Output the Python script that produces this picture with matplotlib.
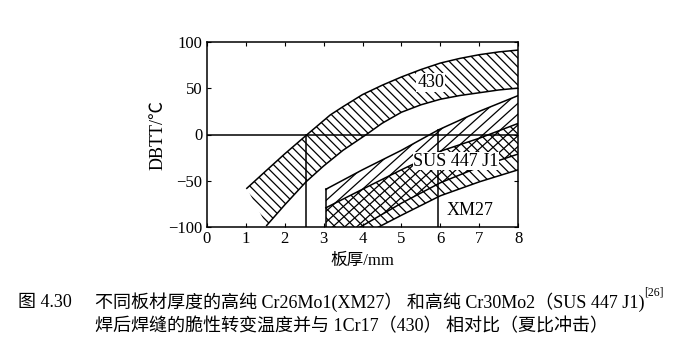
import numpy as np
import matplotlib
matplotlib.use("Agg")
import matplotlib.pyplot as plt
from matplotlib.patches import Polygon
from matplotlib.collections import LineCollection

plt.rcParams['font.family'] = ['Liberation Serif', 'Noto Sans CJK SC', 'DejaVu Sans']
plt.rcParams['axes.unicode_minus'] = True

# ---- data ----
# 1Cr17 (430) band
x430_up = [1.03, 1.5, 2.0, 2.58, 3.17, 3.5, 4.0, 4.5, 5.0, 5.5, 6.0, 6.5, 7.0, 7.5, 8.0]
y430_up = [-58, -40, -21, 0, 21, 30, 43, 53, 62, 70, 77, 82, 86, 89, 91]
x430_lo = [1.54, 2.0, 2.55, 3.0, 3.5, 4.1, 4.5, 5.0, 5.5, 6.0, 6.5, 7.0, 7.5, 8.0]
y430_lo = [-98, -76, -51, -34, -17, 0, 12, 24, 32, 38, 42, 45, 48, 50]

# SUS 447 J1 band
xsus_up = [3.06, 4.0, 5.0, 5.95, 7.0, 8.0]
ysus_up = [-59, -38, -17, 5, 25, 42]
xsus_lo = [3.93, 5.0, 6.0, 7.0, 8.0]
ysus_lo = [-100, -74, -52, -35, -21]

# XM27 band
xxm_up = [3.06, 4.0, 5.0, 6.0, 7.0, 8.0]
yxm_up = [-79, -59, -38, -18, -4, 12]
xxm_lo = [4.4, 5.0, 6.0, 7.0, 8.0]
yxm_lo = [-100, -87, -66, -51, -38]

drop_x = [2.55, 5.95]
drop_top = [0, 5]

xticks = [0, 1, 2, 3, 4, 5, 6, 7, 8]
yticks = [-100, -50, 0, 50, 100]

W, H, DPI = 700, 359, 100
fig = plt.figure(figsize=(W / DPI, H / DPI), dpi=DPI)
L, R, T, B = 206.7, 518.3, 41.7, 227.3
ax = fig.add_axes([L / W, 1 - B / H, (R - L) / W, (B - T) / H])
ax.set_xlim(0, 8)
ax.set_ylim(-100, 100)

kx = (R - L) / 8.0
ky = (B - T) / 200.0


def band(xu, yu, xl, yl, extra_left=None):
    verts = list(zip(xu, yu)) + [(8, yl[-1])] + list(zip(xl[::-1], yl[::-1]))
    if extra_left is not None:
        verts += extra_left
    p = Polygon(verts, closed=True, facecolor='none', edgecolor='none')
    ax.add_patch(p)
    return p


def hatch(patch, sign, spacing_px, angle_deg=45, lw=0.9):
    slope = np.tan(np.radians(angle_deg)) * kx / ky * sign
    sp = spacing_px / kx
    segs = []
    for x0 in np.arange(-12, 20, sp):
        xs = np.array([-1.0, 9.0])
        ys = slope * (xs - x0)
        segs.append(list(zip(xs, ys)))
    lc = LineCollection(segs, colors='k', linewidths=lw)
    ax.add_collection(lc)
    lc.set_clip_path(patch)


p430 = band(x430_up, y430_up, x430_lo, y430_lo)
hatch(p430, -1, 9.0)

psus = band(xsus_up, ysus_up, xsus_lo, ysus_lo, extra_left=[(3.06, -100)])
hatch(psus, 1, 12.0, angle_deg=42)

pxm = band(xxm_up, yxm_up, xxm_lo, yxm_lo, extra_left=[(3.06, -100)])
hatch(pxm, -1, 9.5)

lw = 1.1
for xs, ys in [(x430_up, y430_up), (x430_lo, y430_lo), (xsus_up, ysus_up),
               (xsus_lo, ysus_lo), (xxm_up, yxm_up), (xxm_lo, yxm_lo)]:
    ax.plot(xs, ys, color='k', lw=lw)
ax.plot([3.06, 3.06], [-100, ysus_up[0]], color='k', lw=lw)
ax.axhline(0, color='k', lw=lw)
for dx, dt in zip(drop_x, drop_top):
    ax.plot([dx, dx], [-100, dt], color='k', lw=lw)

ax.text(5.75, 56, '430', fontsize=13, ha='center', va='center',
        bbox=dict(boxstyle='square,pad=0.05', fc='white', ec='none'))
ax.text(6.4, -28.6, 'SUS 447 J1', fontsize=13, ha='center', va='center',
        bbox=dict(boxstyle='square,pad=0.02', fc='white', ec='none'))
ax.text(6.75, -82, 'XM27', fontsize=13, ha='center', va='center')

ax.set_xticks(xticks)
ax.set_yticks(yticks)
ax.tick_params(direction='in', top=True, right=True, length=3, width=0.8,
               labelsize=12, pad=3)
for s in ax.spines.values():
    s.set_linewidth(1.1)

ax.set_ylabel('DBTT/℃', fontsize=13, labelpad=1)
ax.set_xlabel('板厚/mm', fontsize=12, labelpad=4)

fs = 13
fig.text(18 / W, 1 - 302 / H, '图 4.30', fontsize=fs, ha='left', va='center')
t1 = fig.text(95 / W, 1 - 302 / H,
              '不同板材厚度的高纯 Cr26Mo1(XM27） 和高纯 Cr30Mo2（SUS 447 J1)',
              fontsize=fs, ha='left', va='center')
fig.text(95 / W, 1 - 327 / H,
         '焊后焊缝的脆性转变温度并与 1Cr17（430） 相对比（夏比冲击）',
         fontsize=fs, ha='left', va='center')
ax.annotate('[26]', xy=(1.0, 0.7), xycoords=t1, fontsize=8.5,
            ha='left', va='bottom', annotation_clip=False)

fig.savefig('out.png', dpi=DPI)
